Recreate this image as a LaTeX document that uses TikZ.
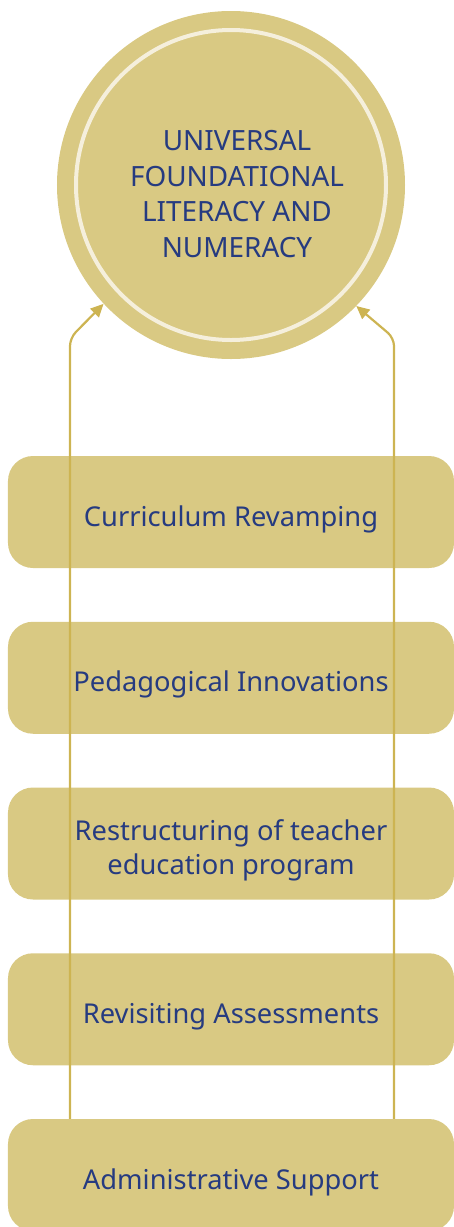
\documentclass[tikz,border=0pt]{standalone}
\usepackage{fontspec}
\setmainfont{Noto Sans}
\usetikzlibrary{arrows.meta}
\usetikzlibrary{calc}

\definecolor{boxgold}{HTML}{D9C983}
\definecolor{linegold}{HTML}{CDB452}
\definecolor{ringcream}{HTML}{F5EFDC}
\definecolor{textnavy}{HTML}{263B80}

\begin{document}
\begin{tikzpicture}[
    x=1bp, y=-1bp,
    goal/.style={circle, fill=boxgold, minimum size=348bp, inner sep=0pt},
    ring/.style={draw=ringcream, line width=4bp},
    goal text/.style={text=textnavy, align=center, font=\fontsize{28}{35.5}\selectfont},
    pillar/.style={rounded corners=25bp, fill=boxgold, minimum width=446bp,
        minimum height=112bp, inner sep=0pt},
    pillar text/.style={text=textnavy, align=center, inner sep=0pt,
        font=\fontsize{27.4}{34}\selectfont},
    link/.style={draw=linegold, line width=2.2bp, rounded corners=8bp,
        -{Triangle[length=13bp,width=12bp]}},
    ]
    \useasboundingbox (0,0) rectangle (454,1227);

    % target circle
    \node[goal] (goal) at (231,185) {};
    \draw[ring] (goal.center) circle[radius=155bp];
    \node[goal text] (goaltext) at (237,194)
        {UNIVERSAL\\FOUNDATIONAL\\LITERACY AND\\NUMERACY};

    % pillars
    \foreach \name/\label [count=\i from 0] in {
        curr/Curriculum Revamping,
        peda/Pedagogical Innovations,
        restr/Restructuring of teacher\\education program,
        asses/Revisiting Assessments,
        admin/Administrative Support}
    {
        \node[pillar] (\name) at (231,512+165.75*\i) {};
        \node[pillar text] (\name text) at ([yshift=-7bp]\name.center) {\label};
    }

    % bend points of the two connectors
    \coordinate (lbend) at (70,338);
    \coordinate (rbend) at (394,338);

    % connectors
    \draw[link] (admin.north -| lbend) -- (lbend) -- (goal.223.6);
    \draw[link] (admin.north -| rbend) -- (rbend) -- (goal.316.6);
\end{tikzpicture}
\end{document}
